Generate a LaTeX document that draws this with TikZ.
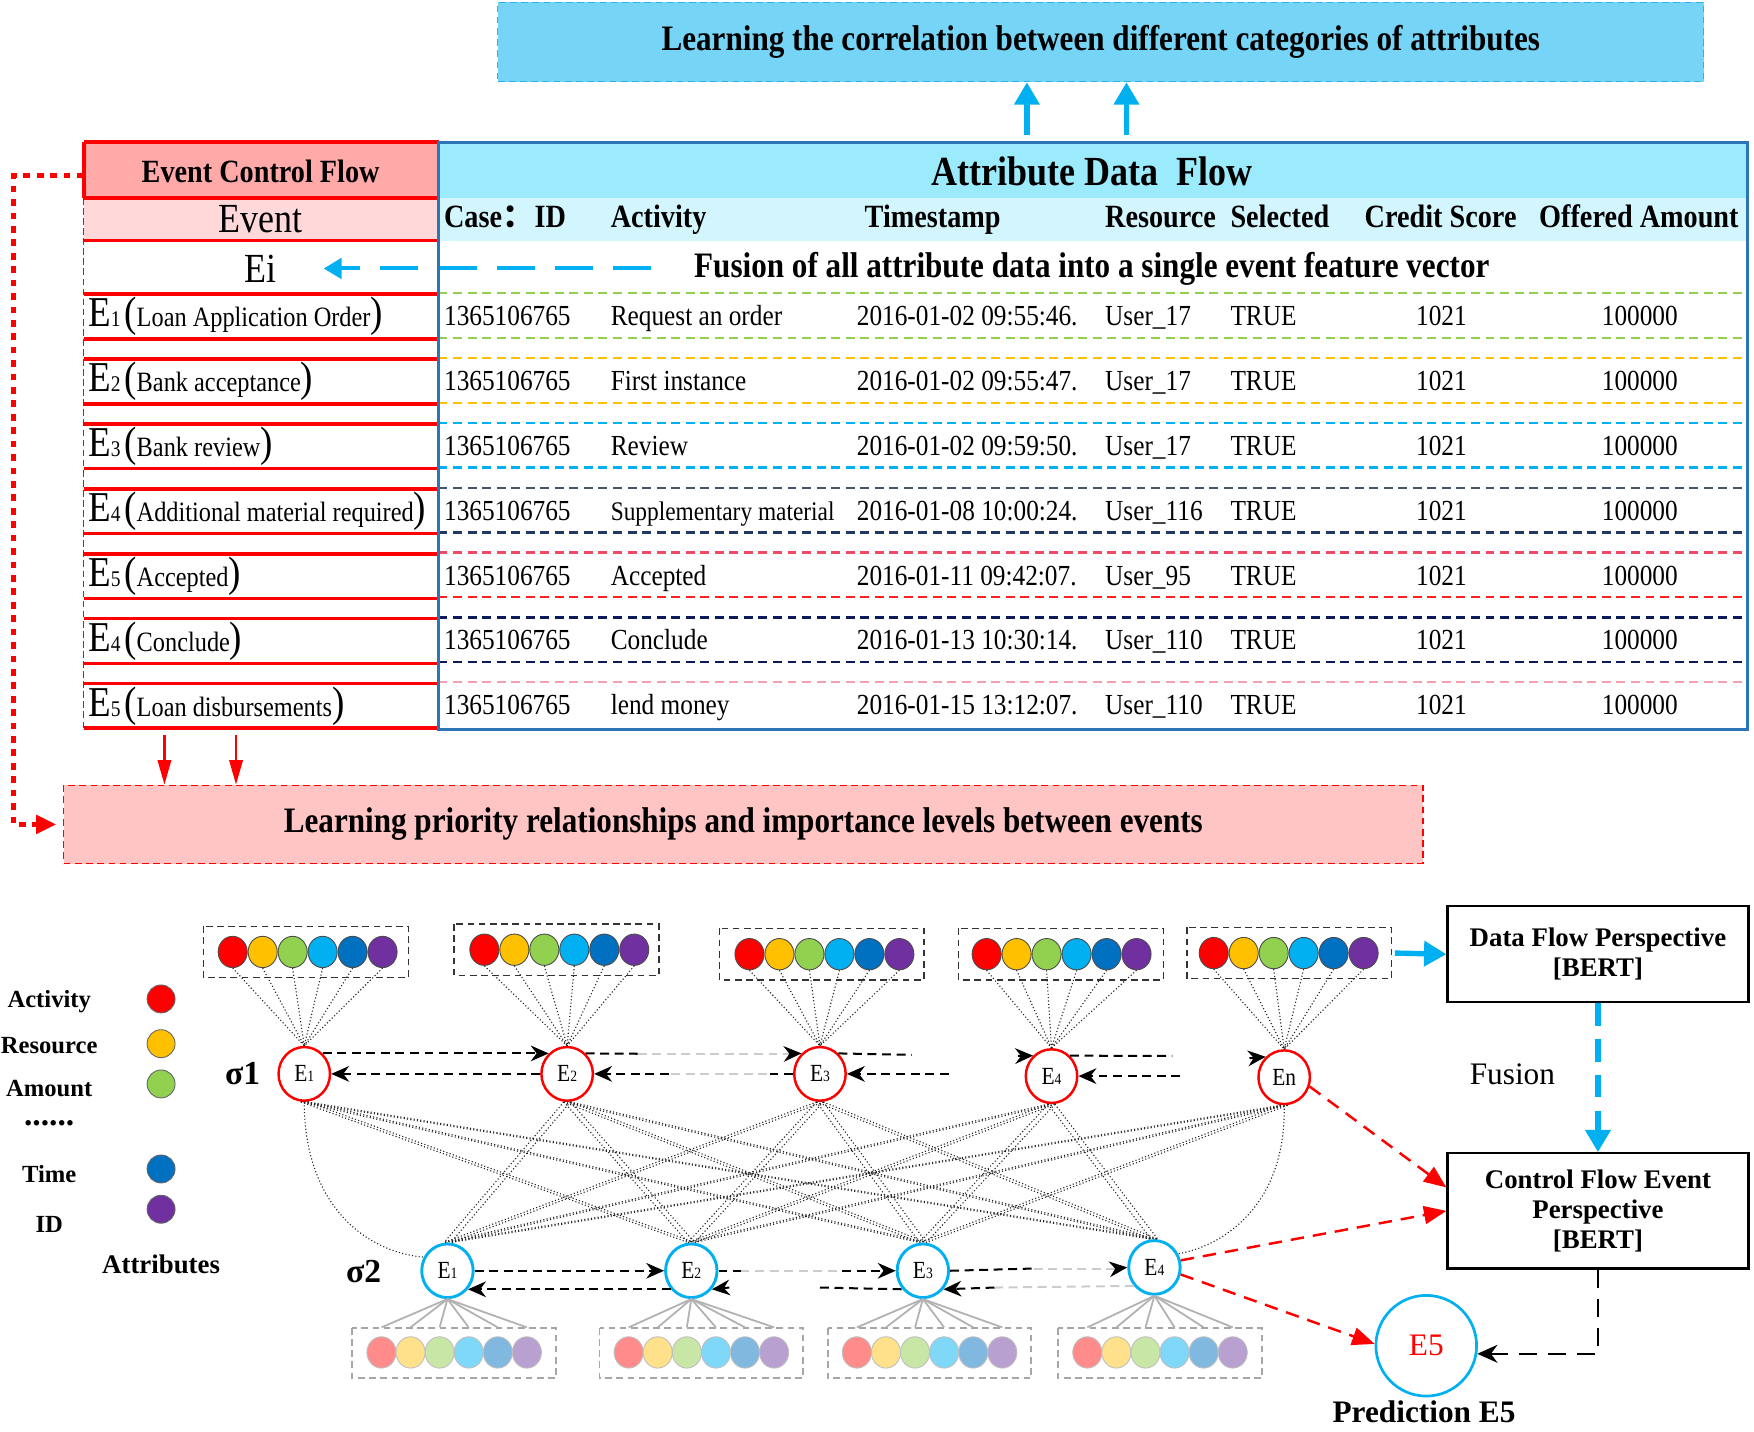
\documentclass[tikz,border=0pt]{standalone}
\usepackage{fontspec}
\setmainfont{Liberation Serif}
\newfontfamily\cond[FakeStretch=0.87]{Liberation Serif}
\newfontfamily\cjk{Noto Sans CJK SC}
\usetikzlibrary{arrows.meta,shapes.geometric,calc}
\newcommand\fsz[1]{\fontsize{#1}{#1}\selectfont}
\newcommand\fszb[2]{\fontsize{#1}{#2}\selectfont}

\definecolor{banblue}{HTML}{76D4F6}
\definecolor{banblueB}{HTML}{2BB0E8}
\definecolor{cyanA}{HTML}{00B0F0}
\definecolor{tblue}{HTML}{2E75B6}
\definecolor{hcyA}{HTML}{9CEBFC}
\definecolor{hcyB}{HTML}{D3F6FE}
\definecolor{hpinkA}{HTML}{FFA9A9}
\definecolor{hpinkB}{HTML}{FFD9D9}
\definecolor{banpink}{HTML}{FFC5C5}
\definecolor{rgreen}{HTML}{92D050}
\definecolor{ryellow}{HTML}{FFC000}
\definecolor{rcyan}{HTML}{00B0F0}
\definecolor{rnavyA}{HTML}{44546A}
\definecolor{rnavyB}{HTML}{1F3864}
\definecolor{rredA}{HTML}{EE4A64}
\definecolor{rredB}{HTML}{FF2020}
\definecolor{rnavyC}{HTML}{0C1A5A}
\definecolor{rpink}{HTML}{F4A0B0}
\definecolor{a1}{HTML}{FF0000}
\definecolor{a2}{HTML}{FFC000}
\definecolor{a3}{HTML}{92D050}
\definecolor{a4}{HTML}{00B0F0}
\definecolor{a5}{HTML}{0070C0}
\definecolor{a6}{HTML}{7030A0}
\definecolor{p1}{HTML}{FF8B8B}
\definecolor{p2}{HTML}{FFE08B}
\definecolor{p3}{HTML}{C8E6A6}
\definecolor{p4}{HTML}{80D8F8}
\definecolor{p5}{HTML}{80B8E0}
\definecolor{p6}{HTML}{B8A0D0}

\tikzset{
  txt/.style={inner sep=0pt, outer sep=0pt},
  hd/.style={txt, anchor=base west, font=\cond\bfseries\fsz{14.5}},
  dat/.style={txt, anchor=base west, font=\cond\fsz{13}},
  redl/.style={red, line width=1.6pt},
  rowdash/.style={line width=1pt, dash pattern=on 4pt off 2.5pt},
  leg/.style={txt, font=\bfseries\fsz{11}},
  lc/.style={circle, draw=black!60, line width=0.4pt, minimum size=12.5pt, inner sep=0pt},
  attr/.style={ellipse, draw=black!70, line width=0.4pt, minimum width=13pt, minimum height=14pt, inner sep=0pt},
  tn/.style={ellipse, draw=red, line width=1.1pt, fill=white, minimum width=23pt, minimum height=24pt, inner sep=0pt, font=\cond\fsz{11}},
  bn/.style={tn, draw=cyanA, line width=1.3pt},
  dotline/.style={black!85, line width=0.5pt, densely dotted},
  hline/.style={black, line width=0.9pt, dash pattern=on 4pt off 2.5pt},
  harr/.style={hline, -{Stealth[length=8pt,width=7pt]}},
  rarr/.style={red, line width=1.1pt, dash pattern=on 6pt off 4pt, -{Triangle[length=10pt,width=8pt]}},
  bbox/.style={draw=black, line width=1pt, minimum width=134.5pt, align=center, inner sep=0pt, font=\bfseries\fszb{12}{13.5}}
}

\begin{document}
\begin{tikzpicture}[x=0.5pt,y=-0.5pt]
\useasboundingbox (0,0) rectangle (1568,1279.3);

% ---------- top banner ----------
\node[draw=banblueB, dash pattern=on 3pt off 2pt, line width=0.6pt, fill=banblue,
      minimum width=539pt, minimum height=35.5pt, inner sep=0pt,
      font=\cond\bfseries\fsz{16}] (topban) at (984,37.5)
      {Learning the correlation between different categories of attributes};
\coordinate (u1) at (918,121);
\coordinate (u2) at (1007,121);
\draw[cyanA, line width=2.4pt, -{Triangle[length=10pt,width=11pt]}] (u1) -- (u1 |- topban.south);
\draw[cyanA, line width=2.4pt, -{Triangle[length=10pt,width=11pt]}] (u2) -- (u2 |- topban.south);

% ---------- table fills ----------
\fill[hpinkA] (75,127) rectangle (392,177);
\fill[hpinkB] (75,177) rectangle (392,215);
\fill[hcyA] (392,127) rectangle (1562,177);
\fill[hcyB] (392,177) rectangle (1562,215);

\node[txt, font=\cond\bfseries\fsz{14.5}] (ecf) at (233,153) {Event Control Flow};
\node[txt, font=\cond\bfseries\fsz{18.5}] (adf) at (976,153) {Attribute Data~ Flow};
\node[txt, font=\cond\fsz{18.5}] (evt) at (233,196) {Event};
\node[hd] (hid) at (397,203) {Case{\cjk ：}ID};
\node[hd] (hact) at (546,203) {Activity};
\node[hd] (hts) at (773,203) {Timestamp};
\node[hd] (hres) at (988,203) {Resource};
\node[hd] (hsel) at (1100,203) {Selected};
\node[hd] (hcs) at (1220,203) {Credit Score};
\node[hd] (hoa) at (1376,203) {Offered Amount};

\node[txt, font=\cond\fsz{18.5}] (ei) at (233,240) {Ei};
\node[txt, font=\cond\bfseries\fsz{16}] (fus) at (976,240) {Fusion of all attribute data into a single event feature vector};
\coordinate (fa) at (582,240);
\draw[cyanA, line width=1.8pt, dash pattern=on 17pt off 9pt, shorten >=21pt,
      -{Triangle[length=8pt,width=9pt]}] (fa) -- (ei.east);

% ---------- rows ----------
\foreach \i/\en/\ename/\act/\ts/\us/\ca/\cb in {
  1/1/Loan Application Order/Request an order/2016-01-02 09:55:46./User\_17/rgreen/rgreen,
  2/2/Bank acceptance/First instance/2016-01-02 09:55:47./User\_17/ryellow/ryellow,
  3/3/Bank review/Review/2016-01-02 09:59:50./User\_17/rcyan/rcyan,
  4/4/Additional material required/{\fsz{12}Supplementary material}/2016-01-08 10:00:24./User\_116/rnavyA/rnavyB,
  5/5/Accepted/Accepted/2016-01-11 09:42:07./User\_95/rredA/rredB,
  6/4/Conclude/Conclude/2016-01-13 10:30:14./User\_110/rnavyC/rnavyC,
  7/5/Loan disbursements/lend money/2016-01-15 13:12:07./User\_110/rpink/none}
{
  \pgfmathsetmacro\cy{283+58*(\i-1)}
  \pgfmathsetmacro\by{\cy+8}
  \draw[rowdash, draw=\ca] (392,{\cy-21}) -- (1562,{\cy-21});
  \draw[rowdash, draw=\cb] (392,{\cy+19}) -- (1562,{\cy+19});
  \draw[redl] (75,{\cy-20}) -- (392,{\cy-20});
  \draw[redl] (75,{\cy+20}) -- (392,{\cy+20});
  \node[txt, anchor=west, font=\cond] (ev\i) at (79,\cy)
     {{\fsz{19}E}{\fsz{10}\en}\,{\fsz{19}(}{\fsz{12.5}\ename}{\fsz{19})}};
  \node[dat] (id\i) at (397,\by) {1365106765};
  \node[dat] (ac\i) at (546,\by) {\act};
  \node[dat] (ts\i) at (766,\by) {\ts};
  \node[dat] (us\i) at (988,\by) {\us};
  \node[dat] (tr\i) at (1100,\by) {TRUE};
  \node[dat] (cs\i) at (1266,\by) {1021};
  \node[dat] (oa\i) at (1432,\by) {100000};
}

% ---------- table borders ----------
\draw[redl] (75,127) -- (392,127);
\draw[redl] (75,177) -- (392,177);
\draw[redl] (75,215) -- (392,215);
\draw[redl] (75,127) -- (75,177);
\draw[red, line width=0.5pt, dash pattern=on 3pt off 1.5pt] (75,177) -- (75,652);
\draw[tblue, line width=1.4pt] (392,127) rectangle (1562,652);

% ---------- pink banner ----------
\node[draw=red, dash pattern=on 3pt off 2pt, line width=0.6pt, fill=banpink,
      minimum width=607.5pt, minimum height=35pt, inner sep=0pt,
      font=\cond\bfseries\fsz{16}] (pinkban) at (664.5,737)
      {Learning priority relationships and importance levels between events};
\coordinate (d1) at (147,657);
\coordinate (d2) at (211,657);
\draw[red, line width=1pt, -{Triangle[length=11pt,width=6pt]}] (d1) -- (d1 |- pinkban.north);
\draw[red, line width=1pt, -{Triangle[length=11pt,width=6pt]}] (d2) -- (d2 |- pinkban.north);
\coordinate (ecfw) at (75,157);
\draw[red, line width=2.2pt, dash pattern=on 3pt off 3pt, shorten >=3pt,
      -{Triangle[length=9pt,width=8pt]}] (ecfw) -- (12,157) -- (12,737) -- (pinkban.west);

% ---------- legend ----------
\node[leg] (lact) at (44,895) {Activity};
\node[leg] (lres) at (44,935) {Resource};
\node[leg] (lamt) at (44,973) {Amount};
\node[txt, font=\bfseries\fsz{15}] (ldot) at (44,1004) {......};
\node[leg] (ltim) at (44,1050) {Time};
\node[leg] (lid) at (44,1095) {ID};
\node[lc, fill=a1] (c1) at (144,893) {};
\node[lc, fill=a2] (c2) at (144,933) {};
\node[lc, fill=a3] (c3) at (144,969) {};
\node[lc, fill=a5] (c5) at (144,1045) {};
\node[lc, fill=a6] (c6) at (144,1081) {};
\node[txt, font=\bfseries\fsz{12}] (lattr) at (144,1130) {Attributes};
\node[txt, font=\bfseries\fsz{15}] (s1) at (217,960) {σ1};
\node[txt, font=\bfseries\fsz{15}] (s2) at (325,1137) {σ2};

% ---------- top attribute groups ----------
\foreach \g/\xl/\xs/\yy in {1/182/208/851, 2/406/433/849, 3/643/670/853, 4/857/882/853, 5/1061/1085/852} {
  \draw[black!80, line width=0.6pt, dash pattern=on 3pt off 2pt] (\xl,{\yy-23}) rectangle ({\xl+183},{\yy+23});
  \foreach \k/\c in {1/a1,2/a2,3/a3,4/a4,5/a5,6/a6} {
    \node[attr, fill=\c] (g\g a\k) at ({\xs+26.8*(\k-1)},\yy) {};
  }
}

% ---------- sigma1 nodes ----------
\node[tn] (t1) at (272,960) {E{\fsz{7}1}};
\node[tn] (t2) at (507,960) {E{\fsz{7}2}};
\node[tn] (t3) at (733,960) {E{\fsz{7}3}};
\node[tn] (t4) at (940,962) {E{\fsz{7}4}};
\node[tn] (t5) at (1148,963) {En};

\foreach \g in {1,...,5} {
  \foreach \k in {1,...,6} {
    \draw[dotline] (g\g a\k.south) -- (t\g.north);
  }
}

% ---------- bottom attribute groups ----------
\foreach \g/\xs in {1/341, 2/562, 3/766, 4/972} {
  \draw[gray!70, line width=0.8pt, dash pattern=on 3pt off 2pt] ({\xs-26},1187) rectangle ({\xs+156},1232);
  \foreach \k/\c in {1/p1,2/p2,3/p3,4/p4,5/p5,6/p6} {
    \node[attr, draw=gray!50, fill=\c] (h\g a\k) at ({\xs+26*(\k-1)},1209) {};
  }
}

% ---------- sigma2 nodes ----------
\node[bn] (b1) at (400,1136) {E{\fsz{7}1}};
\node[bn] (b2) at (618,1136) {E{\fsz{7}2}};
\node[bn] (b3) at (825,1136) {E{\fsz{7}3}};
\node[bn] (b4) at (1032,1133) {E{\fsz{7}4}};

\foreach \g in {1,...,4} {
  \foreach \k in {1,...,6} {
    \draw[gray!60, line width=0.8pt] (b\g.south) -- ($(h\g a\k.north)+(0,-8)$);
  }
}

% ---------- cross connections ----------
\foreach \i in {1,...,5} {
  \foreach \j in {1,...,4} {
    \pgfmathtruncatemacro\sk{(\i==1)*(\j==1)+(\i==5)*(\j==4)}
    \ifnum\sk=0
      \draw[dotline] ($(t\i.south)+(-3,0)$) -- ($(b\j.north)+(-3,0)$);
      \draw[dotline] ($(t\i.south)+(3,0)$) -- ($(b\j.north)+(3,0)$);
    \fi
  }
}
\draw[dotline] (t1.south) .. controls (272,1080) and (330,1120) .. (b1.150);
\draw[dotline] (t5.south) .. controls (1150,1080) and (1090,1115) .. (b4.30);

% ---------- sigma1 arrows ----------
\coordinate (m1) at (570,942);
\coordinate (m2) at (706,942);
\coordinate (m3) at (686,960);
\coordinate (m4) at (598,960);
\coordinate (q1) at (815,943);
\coordinate (q2) at (910,944);
\coordinate (q3) at (1048,944);
\coordinate (q4) at (1117,946);
\coordinate (q5) at (848,960);
\coordinate (q6) at (1055,962);
\draw[harr] (t1.48) -- (t2.132);
\draw[hline] (t2.48) -- (m1);
\draw[hline, gray!40] (m1) -- (m2);
\draw[harr] (m2) -- (t3.132);
\draw[hline] (t3.48) -- (q1);
\draw[harr] (q2) -- (t4.132);
\draw[hline] (t4.48) -- (q3);
\draw[harr] (q4) -- (t5.132);
\draw[harr] (t2.west) -- (t1.east);
\draw[hline] (t3.west) -- (m3);
\draw[hline, gray!40] (m3) -- (m4);
\draw[harr] (m4) -- (t2.east);
\draw[harr] (q5) -- (t3.east);
\draw[harr] (q6) -- (t4.east);

% ---------- sigma2 arrows ----------
\coordinate (n1) at (662,1136);
\coordinate (n2) at (753,1136);
\coordinate (n3) at (924,1134);
\coordinate (n4) at (998,1134);
\coordinate (q7) at (652,1151);
\coordinate (q8) at (733,1151);
\coordinate (q9) at (889,1151);
\draw[harr] (b1.east) -- (b2.west);
\draw[hline] (b2.east) -- (n1);
\draw[hline, gray!40] (n1) -- (n2);
\draw[harr] (n2) -- (b3.west);
\draw[hline] (b3.east) -- (n3);
\draw[hline, gray!40] (n3) -- (n4);
\draw[harr] (n4) -- (b4.west);
\draw[harr] (b2.222) -- (b1.-42);
\draw[harr] (q7) -- (b2.-42);
\draw[hline] (q8) -- (b3.222);
\draw[hline, gray!40] (b4.222) -- (q9);
\draw[harr] (q9) -- (b3.-42);

% ---------- right side ----------
\node[bbox, minimum height=43pt] (dfp) at (1428.5,853) {Data Flow Perspective\\{}[BERT]};
\node[bbox, minimum height=51.5pt] (cfp) at (1428.5,1082.5) {Control Flow Event\\Perspective\\{}[BERT]};
\coordinate (g5r) at (1247,852);
\draw[cyanA, line width=2.4pt, -{Triangle[length=10pt,width=11pt]}] (g5r) -- (dfp.west);
\draw[cyanA, line width=2.4pt, dash pattern=on 10pt off 6pt, -{Triangle[length=10pt,width=11pt]}] (dfp.south) -- (cfp.north);
\node[txt, font=\fsz{14}] (fz) at (1352,960) {Fusion};

\node[circle, draw=cyanA, line width=1.2pt, minimum size=45pt, inner sep=0pt,
      text=red, font=\fsz{14}] (e5) at (1275,1203) {E5};
\node[txt, anchor=base, font=\bfseries\fsz{14}] (pred) at (1273,1272) {Prediction E5};

\draw[rarr] (t5.-20) -- ($(cfp.west)+(0,-21)$);
\draw[rarr] (b4.15) -- (cfp.west);
\draw[rarr] (b4.-15) -- (e5.178);
\draw[black, line width=1.1pt, dash pattern=on 8pt off 5pt, -{Stealth[length=9pt,width=8pt]}] (cfp.south) |- (e5.-9);

\end{tikzpicture}
\end{document}
